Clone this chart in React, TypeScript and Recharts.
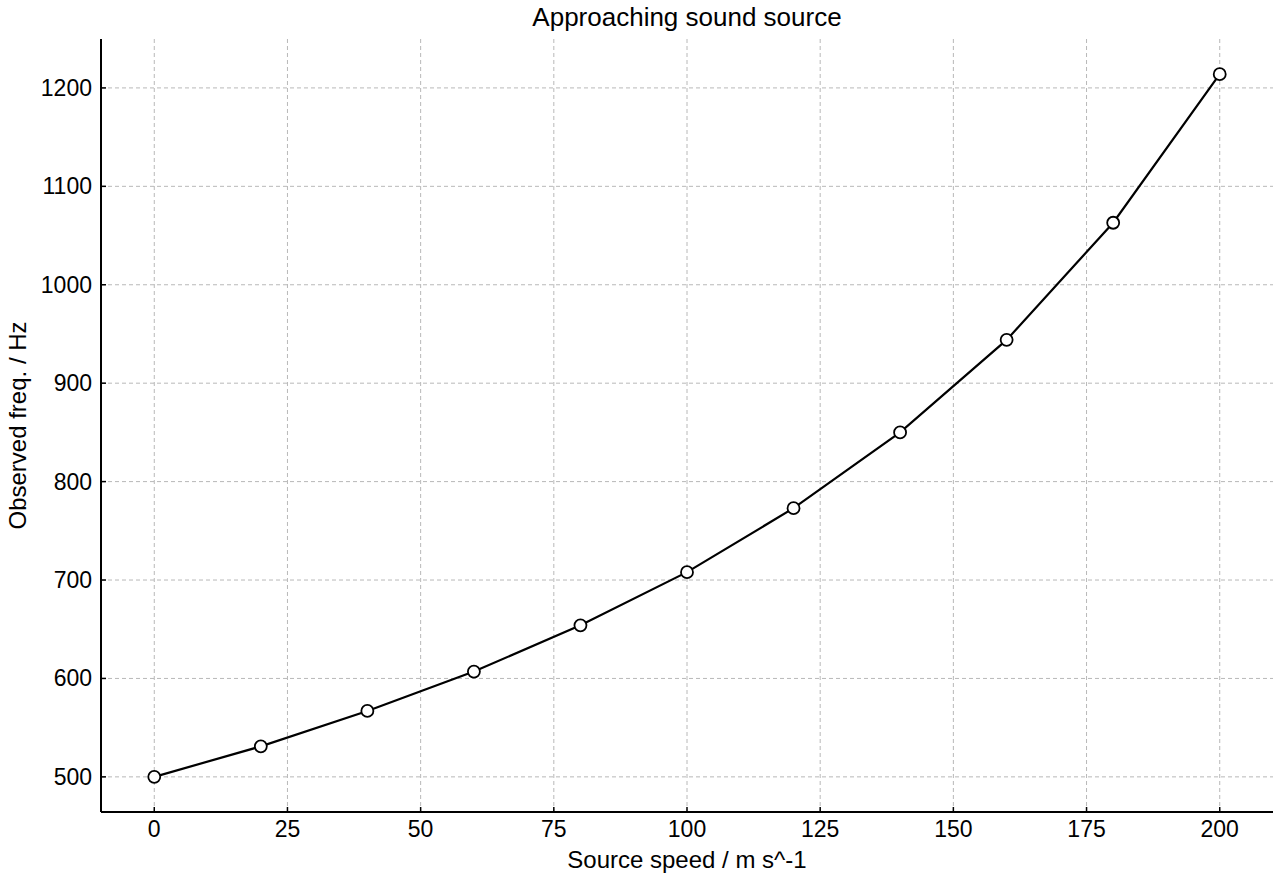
import { LineChart, Line, XAxis, YAxis, CartesianGrid, Label } from "recharts";

// source speed (m/s) and observed frequency (Hz)
const speeds = [0, 20, 40, 60, 80, 100, 120, 140, 160, 180, 200];
const observedHz = [500, 531, 567, 607, 654, 708, 773, 850, 944, 1063, 1214];

const xTicks = [0, 25, 50, 75, 100, 125, 150, 175, 200];
const yTicks = [500, 600, 700, 800, 900, 1000, 1100, 1200];

const data = speeds.map((v, i) => ({ v, f: observedHz[i] }));

const FONT = "'Liberation Sans', Arial, Helvetica, sans-serif";

function XTick(props: any) {
  const { x, y, payload } = props;
  return (
    <g>
      <line x1={x} x2={x} y1={y} y2={y - 5} stroke="#000" strokeWidth={1.5} />
      <text x={x} y={y + 25} textAnchor="middle" fontSize={23} fontFamily={FONT} fill="#000">
        {payload.value}
      </text>
    </g>
  );
}

function YTick(props: any) {
  const { x, y, payload } = props;
  return (
    <g>
      <line x1={x} x2={x + 5} y1={y} y2={y} stroke="#000" strokeWidth={1.5} />
      <text x={x - 9} y={y + 8} textAnchor="end" fontSize={23} fontFamily={FONT} fill="#000">
        {payload.value}
      </text>
    </g>
  );
}

export default function App() {
  return (
    <div style={{ position: "fixed", left: 0, top: 0, width: 1280, height: 880, background: "#fff" }}>
      <div
        style={{
          position: "absolute", left: 101, width: 1172, top: 1, textAlign: "center",
          fontFamily: FONT, fontSize: 26, color: "#000", lineHeight: "32px",
        }}
      >
        Approaching sound source
      </div>
      <LineChart width={1280} height={880} data={data} margin={{ top: 39, right: 7, left: 0, bottom: 0 }}>
        <CartesianGrid stroke="#b8b8b8" strokeDasharray="4 3" strokeWidth={1} horizontalValues={yTicks} verticalValues={xTicks} />
        <XAxis
          dataKey="v"
          type="number"
          domain={[-10, 210]}
          ticks={xTicks}
          height={68}
          tickSize={0}
          tickMargin={0}
          tickLine={false}
          axisLine={{ stroke: "#000", strokeWidth: 2 }}
          tick={<XTick />}
          interval={0}
        >
          <Label value="Source speed / m s^-1" position="insideBottom" offset={12} fontSize={24} fontFamily={FONT} fill="#000" />
        </XAxis>
        <YAxis
          type="number"
          domain={[464.3, 1249.7]}
          ticks={yTicks}
          width={101}
          tickSize={0}
          tickMargin={0}
          tickLine={false}
          axisLine={{ stroke: "#000", strokeWidth: 2 }}
          tick={<YTick />}
          interval={0}
          allowDataOverflow
        >
          <Label value="Observed freq. / Hz" angle={-90} position="insideLeft" offset={17} fontSize={24} fontFamily={FONT} fill="#000" style={{ textAnchor: "middle" }} />
        </YAxis>
        <Line
          dataKey="f"
          stroke="#000"
          strokeWidth={2.2}
          dot={{ r: 6, fill: "#fff", stroke: "#000", strokeWidth: 1.8 }}
          isAnimationActive={false}
        />
      </LineChart>
    </div>
  );
}
